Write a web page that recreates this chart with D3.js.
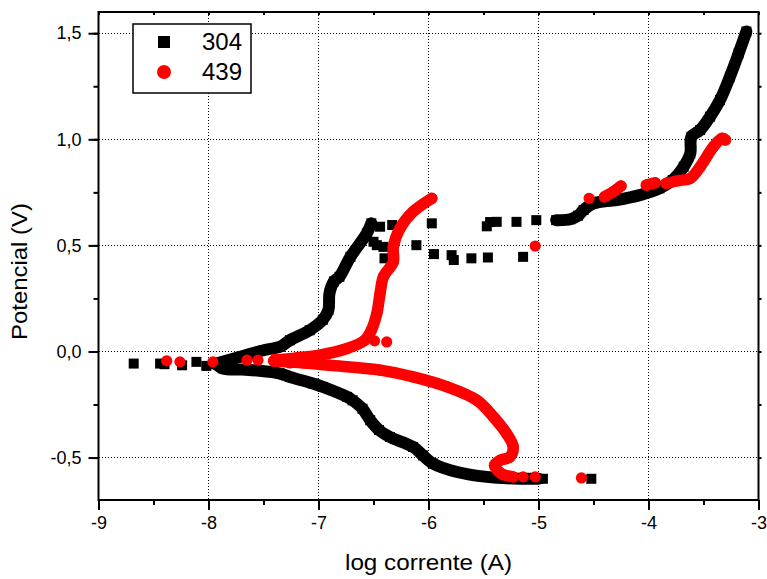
<!DOCTYPE html>
<html>
<head>
<meta charset="utf-8">
<script src="https://cdn.jsdelivr.net/npm/d3@7"></script>
<style>
  html, body { margin: 0; padding: 0; background: #fff; }
  text { font-family: "Liberation Sans", Arial, sans-serif; }
</style>
</head>
<body>
<svg id="chart" width="767" height="579"></svg>
<script>
// ---------- DATA (log current [A], potential [V]) ----------
const xTicks = [-9, -8, -7, -6, -5, -4, -3];
const yTicks = [-0.5, 0.0, 0.5, 1.0, 1.5];
const xTickLabels = ["-9", "-8", "-7", "-6", "-5", "-4", "-3"];
const yTickLabels = ["-0,5", "0,0", "0,5", "1,0", "1,5"];
const seriesNames = ["304", "439"];

// Steel 304: dense branches
const s304Cathodic = [[-7.93,-0.06],[-7.87,-0.08],[-7.7,-0.085],[-7.56,-0.09],[-7.35,-0.104],[-7.26,-0.12],[-7.05,-0.151],[-6.96,-0.167],[-6.74,-0.214],[-6.69,-0.23],[-6.6,-0.27],[-6.53,-0.324],[-6.45,-0.37],[-6.35,-0.403],[-6.14,-0.45],[-6.05,-0.49],[-5.96,-0.528],[-5.74,-0.568],[-5.47,-0.591],[-5.23,-0.599],[-5.0,-0.6]];
const s304Anodic = [[-7.93,-0.057],[-7.71,-0.025],[-7.5,0.006],[-7.35,0.022],[-7.26,0.053],[-7.08,0.10],[-6.96,0.15],[-6.91,0.195],[-6.90,0.274],[-6.86,0.33],[-6.81,0.352],[-6.71,0.446],[-6.56,0.557],[-6.52,0.604]];
const s304Transpassive = [[-4.84,0.619],[-4.71,0.623],[-4.64,0.64],[-4.59,0.667],[-4.50,0.698],[-4.29,0.714],[-4.08,0.737],[-3.90,0.769],[-3.78,0.808],[-3.68,0.871],[-3.62,0.934],[-3.61,1.012],[-3.53,1.044],[-3.44,1.107],[-3.35,1.185],[-3.26,1.295],[-3.18,1.406],[-3.11,1.508]];
// Steel 304: scattered points
const s304Scatter = [[-8.68,-0.057],[-8.44,-0.057],[-8.40,-0.06],[-8.24,-0.065],[-8.11,-0.049],[-8.02,-0.068],
  [-6.44,0.588],[-6.33,0.596],[-6.50,0.517],[-6.47,0.501],[-6.41,0.493],[-6.40,0.439],[-6.11,0.501],[-5.97,0.604],
  [-5.95,0.459],[-5.79,0.454],[-5.77,0.431],[-5.61,0.439],[-5.46,0.443],[-5.14,0.446],
  [-5.47,0.59],[-5.44,0.61],[-5.38,0.611],[-5.20,0.611],[-5.02,0.619],
  [-4.96,-0.6],[-4.52,-0.6]];

// Steel 439: dense branches
const s439Cathodic = [[-7.4,-0.045],[-7.1,-0.055],[-6.90,-0.065],[-6.44,-0.088],[-6.14,-0.12],[-5.83,-0.167],[-5.56,-0.23],[-5.41,-0.308],[-5.29,-0.387],[-5.23,-0.45],[-5.26,-0.497],[-5.35,-0.513],[-5.40,-0.536],[-5.34,-0.575],[-5.23,-0.591]];
const s439Anodic = [[-7.4,-0.04],[-7.2,-0.03],[-6.99,-0.017],[-6.74,0.014],[-6.58,0.053],[-6.52,0.10],[-6.47,0.179],[-6.44,0.274],[-6.41,0.352],[-6.32,0.423],[-6.32,0.493],[-6.26,0.58],[-6.14,0.659],[-5.97,0.722]];
const s439Upper1 = [[-4.40,0.729],[-4.32,0.753],[-4.25,0.780]];
const s439Upper2 = [[-4.02,0.784],[-3.94,0.795]];
const s439Upper3 = [[-3.84,0.792],[-3.73,0.805],[-3.62,0.816],[-3.53,0.871],[-3.50,0.894],[-3.41,0.965],[-3.33,1.005],[-3.30,0.997]];
// Steel 439: scattered points
const s439Scatter = [[-8.38,-0.044],[-8.26,-0.049],[-7.96,-0.049],[-7.65,-0.041],[-7.55,-0.041],[-7.41,-0.045],[-7.26,-0.054],[-7.14,-0.054],
  [-6.49,0.05],[-6.38,0.045],[-5.03,0.497],[-4.61,-0.596],[-5.14,-0.591],[-5.03,-0.591],[-4.54,0.722]];

// ---------- DRAW ----------
const svg = d3.select("#chart");
const L = 98.5, R = 758.5, T = 12, B = 500;
const x = d3.scaleLinear().domain([-9, -3]).range([L, R]);
const y = d3.scaleLinear().domain([-0.7, 1.6]).range([B, T]);
const font = '"Liberation Sans", Arial, sans-serif';

// grid
const grid = svg.append("g").attr("shape-rendering", "crispEdges");
grid.selectAll("line.gx").data(xTicks.slice(1, -1)).join("line")
  .attr("x1", d => x(d)).attr("x2", d => x(d)).attr("y1", T).attr("y2", B)
  .attr("stroke", "#000").attr("stroke-width", 1).attr("stroke-dasharray", "1,2");
grid.selectAll("line.gy").data(yTicks).join("line")
  .attr("x1", L).attr("x2", R).attr("y1", d => y(d)).attr("y2", d => y(d))
  .attr("stroke", "#000").attr("stroke-width", 1).attr("stroke-dasharray", "1,2");

// axes
const xMinor = d3.range(-9, -2.9, 0.5);
const yMinor = d3.range(-0.5, 1.6, 0.25);
const xAxisMinor = d3.axisBottom(x).tickValues(xMinor).tickSize(5).tickFormat("");
const xAxis = d3.axisBottom(x).tickValues(xTicks).tickSize(10).tickFormat((d, i) => xTickLabels[i]).tickPadding(6);
const yAxisMinor = d3.axisLeft(y).tickValues(yMinor).tickSize(5).tickFormat("");
const yAxis = d3.axisLeft(y).tickValues(yTicks).tickSize(10).tickFormat((d, i) => yTickLabels[i]).tickPadding(7);

function styleAxis(g) {
  g.select(".domain").remove();
  g.selectAll(".tick line").attr("stroke", "#000").attr("stroke-width", 2);
  g.selectAll(".tick text").attr("fill", "#000").style("font-family", font).style("font-size", "18px");
}
svg.append("g").attr("transform", `translate(0,${B})`).call(xAxisMinor).call(styleAxis);
svg.append("g").attr("transform", `translate(0,${B})`).call(xAxis).call(styleAxis);
svg.append("g").attr("transform", `translate(${L},0)`).call(yAxisMinor).call(styleAxis);
svg.append("g").attr("transform", `translate(${L},0)`).call(yAxis).call(styleAxis);
// small ticks on top and right
svg.append("g").attr("transform", `translate(0,${T})`)
  .call(d3.axisTop(x).tickValues(xMinor).tickSize(-3).tickFormat("")).call(styleAxis);
svg.append("g").attr("transform", `translate(${R},0)`)
  .call(d3.axisRight(y).tickValues(yMinor).tickSize(3).tickFormat("")).call(styleAxis);

// frame
svg.append("rect").attr("x", L).attr("y", T).attr("width", R - L).attr("height", B - T)
  .attr("fill", "none").attr("stroke", "#000").attr("stroke-width", 2);

// data
const plot = svg.append("g");
const line = d3.line().x(d => x(d[0])).y(d => y(d[1])).curve(d3.curveCatmullRom);
const RED = "#ff0000", BLK = "#000000";
const sq = 10, rc = 5.6;

function band(data, color, w) {
  plot.append("path").datum(data).attr("d", line)
    .attr("fill", "none").attr("stroke", color).attr("stroke-width", w)
    .attr("stroke-linejoin", "round").attr("stroke-linecap", "round");
}
function squares(data) {
  plot.append("g").selectAll("rect").data(data).join("rect")
    .attr("x", d => x(d[0]) - sq / 2).attr("y", d => y(d[1]) - sq / 2)
    .attr("width", sq).attr("height", sq).attr("fill", BLK);
}
function circles(data) {
  plot.append("g").selectAll("circle").data(data).join("circle")
    .attr("cx", d => x(d[0])).attr("cy", d => y(d[1])).attr("r", rc).attr("fill", RED);
}

[s304Cathodic, s304Anodic, s304Transpassive].forEach(s => { band(s, BLK, 12); squares(s); });
squares(s304Scatter);
[s439Cathodic, s439Anodic, s439Upper1, s439Upper2, s439Upper3].forEach(s => { band(s, RED, 11.5); circles(s); });
circles(s439Scatter);

// axis titles
svg.append("text").attr("x", 428.5).attr("y", 570).attr("text-anchor", "middle")
  .style("font-size", "22px").attr("textLength", 167).attr("lengthAdjust", "spacingAndGlyphs")
  .text("log corrente (A)");
svg.append("text").attr("transform", "translate(27,271.5) rotate(-90)").attr("text-anchor", "middle")
  .style("font-size", "22px").attr("textLength", 137).attr("lengthAdjust", "spacingAndGlyphs")
  .text("Potencial (V)");

// legend
const lg = svg.append("g");
lg.append("rect").attr("x", 133).attr("y", 24).attr("width", 118).attr("height", 69)
  .attr("fill", "#fff").attr("stroke", "#000").attr("stroke-width", 1.5);
lg.append("rect").attr("x", 158).attr("y", 36).attr("width", 12).attr("height", 12).attr("fill", BLK);
lg.append("circle").attr("cx", 164).attr("cy", 72).attr("r", 7).attr("fill", RED);
lg.selectAll("text.lt").data(seriesNames).join("text")
  .attr("x", 202).attr("y", (d, i) => 50 + i * 30)
  .style("font-size", "24px").attr("fill", "#000").text(d => d);
</script>
</body>
</html>
